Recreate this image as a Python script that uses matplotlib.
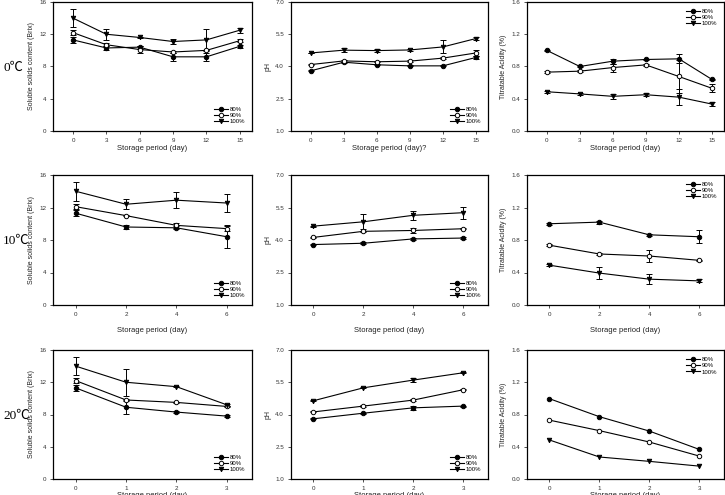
import matplotlib
matplotlib.use("Agg")
import matplotlib.pyplot as plt
from matplotlib.lines import Line2D
import numpy as np

plt.rcParams['font.family'] = ['Liberation Sans', 'DejaVu Sans']

# ---------------- data ----------------
temps = ["0℃", "10℃", "20℃"]
days_0 = [0, 3, 6, 9, 12, 15]
days_10 = [0, 2, 4, 6]
days_20 = [0, 1, 2, 3]
series_labels = ["80%", "90%", "100%"]

# Soluble solids (Brix)
brix_0 = [[11.3, 10.3, 10.4, 9.2, 9.2, 10.5],
          [12.2, 10.7, 10.1, 9.8, 10.0, 11.2],
          [14.0, 12.0, 11.6, 11.1, 11.3, 12.5]]
brix_0_err = [[0.4, 0.2, 0.2, 0.5, 0.5, 0.2],
              [0.3, 0.2, 0.4, 0.1, 0.1, 0.2],
              [1.1, 0.7, 0.1, 0.3, 1.3, 0.3]]
brix_10 = [[11.3, 9.6, 9.5, 8.4],
           [12.1, 11.0, 9.8, 9.4],
           [14.0, 12.4, 12.9, 12.55]]
brix_10_err = [[0.4, 0.2, 0.2, 1.4],
               [0.3, 0.1, 0.3, 0.3],
               [1.2, 0.6, 1.0, 1.1]]
brix_20 = [[11.3, 8.9, 8.3, 7.8],
           [12.2, 9.8, 9.5, 9.0],
           [14.0, 12.0, 11.45, 9.2]]
brix_20_err = [[0.4, 0.85, 0.1, 0.1],
               [0.3, 0.1, 0.1, 0.1],
               [1.1, 1.7, 0.1, 0.1]]

# pH
ph_0 = [[3.8, 4.2, 4.08, 4.03, 4.03, 4.42],
        [4.09, 4.26, 4.22, 4.25, 4.39, 4.63],
        [4.63, 4.76, 4.74, 4.77, 4.91, 5.3]]
ph_0_err = [[0.02, 0.03, 0.03, 0.02, 0.02, 0.05],
            [0.02, 0.03, 0.03, 0.03, 0.03, 0.12],
            [0.02, 0.1, 0.06, 0.05, 0.3, 0.05]]
ph_10 = [[3.79, 3.85, 4.05, 4.09],
         [4.12, 4.4, 4.44, 4.52],
         [4.64, 4.84, 5.14, 5.26]]
ph_10_err = [[0.02, 0.05, 0.03, 0.05],
             [0.02, 0.03, 0.12, 0.03],
             [0.02, 0.35, 0.2, 0.27]]
ph_20 = [[3.8, 4.06, 4.31, 4.39],
         [4.12, 4.39, 4.67, 5.15],
         [4.64, 5.24, 5.6, 5.94]]
ph_20_err = [[0.02, 0.03, 0.08, 0.02],
             [0.02, 0.03, 0.03, 0.02],
             [0.02, 0.03, 0.1, 0.02]]

# Titratable acidity (%)
ta_0 = [[1.0, 0.80, 0.866, 0.887, 0.895, 0.64],
        [0.73, 0.742, 0.787, 0.82, 0.676, 0.53],
        [0.487, 0.46, 0.43, 0.45, 0.42, 0.334]]
ta_0_err = [[0.01, 0.01, 0.03, 0.01, 0.055, 0.01],
            [0.01, 0.01, 0.05, 0.01, 0.2, 0.05],
            [0.01, 0.01, 0.03, 0.02, 0.1, 0.03]]
ta_10 = [[1.0, 1.02, 0.864, 0.84],
         [0.736, 0.628, 0.603, 0.55],
         [0.49, 0.393, 0.318, 0.297]]
ta_10_err = [[0.01, 0.02, 0.01, 0.08],
             [0.01, 0.01, 0.07, 0.01],
             [0.01, 0.07, 0.06, 0.02]]
ta_20 = [[0.996, 0.773, 0.595, 0.368],
         [0.73, 0.60, 0.459, 0.285],
         [0.484, 0.273, 0.219, 0.16]]
ta_20_err = None

ylabels = ["Soluble solids content (Brix)", "pH", "Titratable Acidity (%)"]
yticks = [[0, 4, 8, 12, 16], [1.0, 2.5, 4.0, 5.5, 7.0], [0.0, 0.4, 0.8, 1.2, 1.6]]
ytick_labels = [["0", "4", "8", "12", "16"], ["1.0", "2.5", "4.0", "5.5", "7.0"],
                ["0.0", "0.4", "0.8", "1.2", "1.6"]]
xlabels = [["Storage period (day)", "Storage period (day)?", "Storage period (day)"],
           ["Storage period (day)"] * 3,
           ["Storage period (day)"] * 3]

# ---------------- layout ----------------
W, H = 725, 495
fig = plt.figure(figsize=(W / 100, H / 100), dpi=100)

col_x = [(53, 252), (291, 488), (527, 724)]
row_y = [(2, 131), (175, 305), (350, 479)]
xlims = [(-1.8, 16.1), (-0.9, 7.0), (-0.45, 3.5)]
xlabel_pad = [1.5, 7.5, 1.0]
legend_loc = [["lower right", "lower right", "upper right"]] * 3

days_all = [days_0, days_10, days_20]
data = [[(brix_0, brix_0_err), (ph_0, ph_0_err), (ta_0, ta_0_err)],
        [(brix_10, brix_10_err), (ph_10, ph_10_err), (ta_10, ta_10_err)],
        [(brix_20, brix_20_err), (ph_20, ph_20_err), (ta_20, ta_20_err)]]

markers = [dict(marker='o', mfc='black', mec='black'),
           dict(marker='o', mfc='white', mec='black'),
           dict(marker='v', mfc='black', mec='black')]

for r in range(3):
    for c in range(3):
        x0, x1 = col_x[c]
        y0, y1 = row_y[r]
        ax = fig.add_axes([x0 / W, 1 - y1 / H, (x1 - x0) / W, (y1 - y0) / H])
        vals, errs = data[r][c]
        handles = []
        for s in range(3):
            ax.errorbar(days_all[r], vals[s],
                        yerr=None if errs is None else errs[s],
                        color='black', lw=0.8, ms=3.2, mew=0.7, capsize=2,
                        elinewidth=0.7, capthick=0.7, **markers[s])
            handles.append(Line2D([], [], color='black', lw=0.8, ms=3.2, mew=0.7,
                                  label=series_labels[s], **markers[s]))
        ax.set_xlim(*xlims[r])
        ax.set_xticks(days_all[r])
        ax.set_ylim(yticks[c][0], yticks[c][-1])
        ax.set_yticks(yticks[c])
        ax.set_yticklabels(ytick_labels[c])
        ax.tick_params(labelsize=4.5, length=2, width=0.6, pad=3, colors='#333333')
        ax.set_ylabel(ylabels[c], fontsize=5, labelpad=3, color='#222222')
        ax.set_xlabel(xlabels[r][c], fontsize=5.5, labelpad=xlabel_pad[r], color='#222222')
        for sp in ax.spines.values():
            sp.set_linewidth(0.9)
        ax.legend(handles=handles, loc=legend_loc[r][c], fontsize=4.3, frameon=False,
                  handlelength=2.2, handletextpad=0.3, labelspacing=0.15,
                  borderaxespad=0.8)
    fig.text(3 / W, 1 - ((row_y[r][0] + row_y[r][1]) / 2 + 1) / H, temps[r],
             fontsize=9.5, family=['Liberation Serif', 'Noto Sans CJK SC'],
             ha='left', va='center')

fig.savefig("out.png", dpi=100)
